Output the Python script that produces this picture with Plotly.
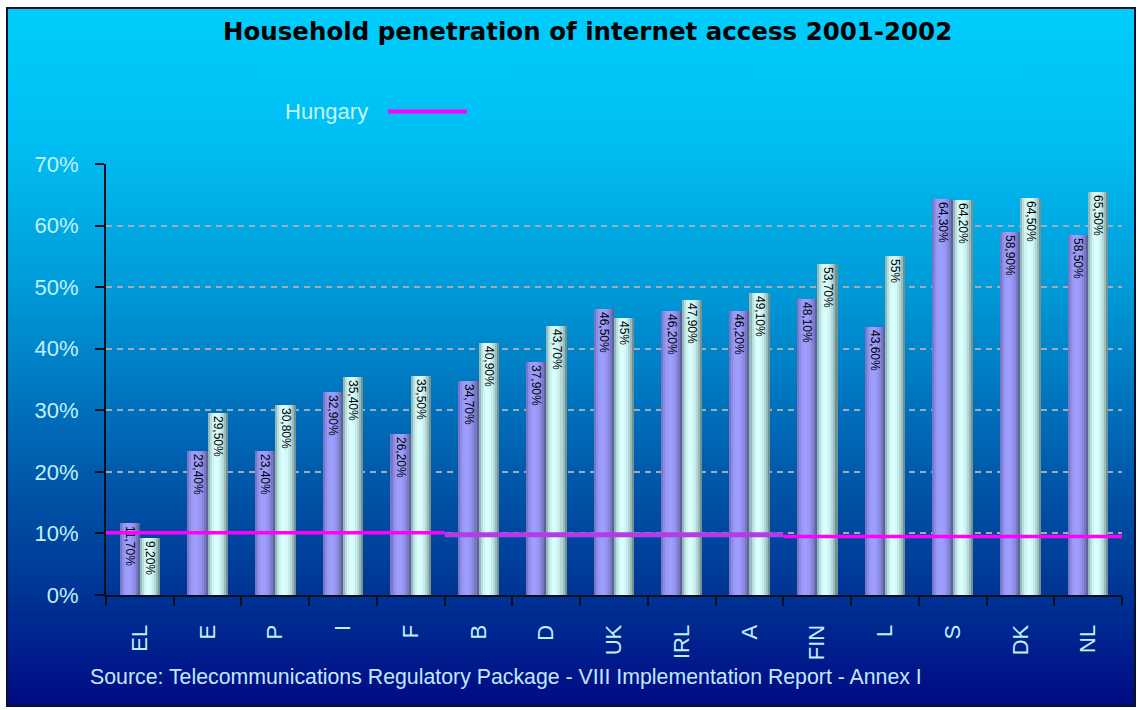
import base64
import math
import plotly.graph_objects as go

# ---- data -------------------------------------------------------------
countries = ["EL", "E", "P", "I", "F", "B", "D", "UK", "IRL", "A",
             "FIN", "L", "S", "DK", "NL"]
penetration_2001 = [11.7, 23.4, 23.4, 32.9, 26.2, 34.7, 37.9, 46.5, 46.2,
                    46.2, 48.1, 43.6, 64.3, 58.9, 58.5]
penetration_2002 = [9.2, 29.5, 30.8, 35.4, 35.5, 40.9, 43.7, 45.0, 47.9,
                    49.1, 53.7, 55.0, 64.2, 64.5, 65.5]
# Hungary reference level, one value per block of five countries
hungary_levels = [10.1, 9.8, 9.5]
hungary_block = 5
y_ticks = [0, 10, 20, 30, 40, 50, 60, 70]

# ---- page geometry ----------------------------------------------------
W, H = 1138, 710
ML, MR, MT, MB = 106, 16, 164, 115
PW, PH = W - ML - MR, H - MT - MB


def fx(px):
    return (px - ML) / PW


def fy(py):
    return (H - MB - py) / PH


def fmt(v):
    if float(v).is_integer():
        return f"{int(v)}%"
    return f"{v:.2f}".replace(".", ",") + "%"


idx = list(range(len(countries)))
fig = go.Figure()

# ---- cylinder-shaded bars (vertical strips across each bar) ------------
BAR_W = 0.3
N_STRIPS = 10


def shade(t, left, mid, right, peak=0.4):
    if t < peak:
        f = math.sin(math.pi / 2 * t / peak) ** 0.6
        edge = left
    else:
        f = math.cos(math.pi / 2 * (t - peak) / (1 - peak)) ** 0.6
        edge = right
    c = [round(e + (m - e) * f) for e, m in zip(edge, mid)]
    return f"rgb({c[0]},{c[1]},{c[2]})"


series = [
    ("2001", penetration_2001, -BAR_W / 2, (96, 96, 165), (158, 158, 255), (70, 70, 115)),
    ("2002", penetration_2002, BAR_W / 2, (105, 145, 145), (218, 255, 255), (70, 100, 100)),
]

for name, vals, centre, left, mid, right in series:
    sw = BAR_W / N_STRIPS
    for k in range(N_STRIPS):
        t = (k + 0.5) / N_STRIPS
        fig.add_trace(go.Bar(
            x=idx, y=vals, width=sw * 1.02, offset=centre - BAR_W / 2 + k * sw,
            marker=dict(color=shade(t, left, mid, right), line=dict(width=0)),
            showlegend=False, hoverinfo="skip", name=name))

for name, vals, centre, *_ in series:
    fig.add_trace(go.Bar(
        x=idx, y=vals, width=BAR_W, offset=centre - BAR_W / 2,
        marker=dict(color="rgba(0,0,0,0)", line=dict(width=0)),
        text=[fmt(v) for v in vals], textposition="inside",
        insidetextanchor="end", textangle=90,
        textfont=dict(family="Liberation Sans", size=12, color="black"),
        showlegend=False, name=name,
        hovertemplate="%{y:.1f}%<extra>" + name + "</extra>"))

# ---- Hungary reference line ------------------------------------------
seg_colors = ["#ff00ff", "#b43ce6", "#ff00ff"]
seg_widths = [3.5, 5, 3.5]
for i, lvl in enumerate(hungary_levels):
    x0 = i * hungary_block - 0.5
    x1 = (i + 1) * hungary_block - 0.5
    fig.add_trace(go.Scatter(
        x=[x0, x1], y=[lvl, lvl], mode="lines",
        line=dict(color=seg_colors[i], width=seg_widths[i]),
        showlegend=False, name="Hungary", hoverinfo="skip"))

# ---- background gradient panel with dark frame -----------------------
bw, bh = 1130, 700
svg = (
    f'<svg xmlns="http://www.w3.org/2000/svg" width="{bw}" height="{bh}" '
    f'viewBox="0 0 {bw} {bh}" preserveAspectRatio="none">'
    '<defs><linearGradient id="g" x1="0" y1="0" x2="0" y2="1">'
    '<stop offset="0" stop-color="#00cefd"/>'
    '<stop offset="0.2" stop-color="#00bdf2"/>'
    '<stop offset="0.4" stop-color="#009bd8"/>'
    '<stop offset="0.55" stop-color="#0076c0"/>'
    '<stop offset="0.7" stop-color="#0052a6"/>'
    '<stop offset="0.83" stop-color="#003696"/>'
    '<stop offset="1" stop-color="#000a84"/>'
    '</linearGradient></defs>'
    f'<rect x="1" y="1" width="{bw - 2}" height="{bh - 2}" fill="url(#g)" '
    'stroke="#0a0f2a" stroke-width="2"/></svg>'
)
bg_src = "data:image/svg+xml;base64," + base64.b64encode(svg.encode()).decode()

fig.add_layout_image(dict(
    source=bg_src, xref="paper", yref="paper",
    x=fx(6), y=fy(7), sizex=bw / PW, sizey=bh / PH,
    xanchor="left", yanchor="top", sizing="stretch", layer="below"))

# ---- texts -------------------------------------------------------------
annotations = [
    dict(text="<b>Household penetration of internet access 2001-2002</b>",
         x=fx(587), y=fy(31), xanchor="center", yanchor="middle",
         font=dict(family="DejaVu Sans", size=24.5, color="#000000")),
    dict(text="Hungary", x=fx(283), y=fy(111), xanchor="left", yanchor="middle",
         font=dict(family="Liberation Sans", size=22, color="#c8f4ff")),
    dict(text="Source: Telecommunications Regulatory Package - VIII Implementation Report - Annex I",
         x=fx(88), y=fy(677), xanchor="left", yanchor="middle",
         font=dict(family="Liberation Sans", size=21.3, color="#c0e8ff")),
]
for a in annotations:
    a.update(xref="paper", yref="paper", showarrow=False)

fig.update_layout(
    width=W, height=H,
    margin=dict(l=ML, r=MR, t=MT, b=MB, pad=0),
    paper_bgcolor="white", plot_bgcolor="rgba(0,0,0,0)",
    barmode="overlay", bargap=0,
    annotations=annotations,
    shapes=[dict(type="line", xref="paper", yref="paper",
                 x0=fx(388), x1=fx(467), y0=fy(111.5), y1=fy(111.5),
                 line=dict(color="#ff00ff", width=4))],
    xaxis=dict(
        range=[-0.5, len(countries) - 0.5], tickmode="array",
        tickvals=idx, ticktext=countries, tickangle=-90,
        ticks="outside", ticklen=9, tickcolor="rgba(0,0,0,0)",
        ticklabelstandoff=10,
        tickfont=dict(family="Liberation Sans", size=22, color="#c0f0ff"),
        showline=True, linecolor="#0a0f20", linewidth=2,
        showgrid=False, zeroline=False, fixedrange=True,
        minor=dict(tickmode="array",
                   tickvals=[i - 0.5 for i in range(len(countries) + 1)],
                   ticks="outside", ticklen=9, tickwidth=2,
                   tickcolor="#0a0f20", showgrid=False),
    ),
    yaxis=dict(
        range=[0, 70], tickmode="array", tickvals=y_ticks,
        ticktext=[f"{v}%" for v in y_ticks],
        ticks="outside", ticklen=9, tickwidth=2, tickcolor="#0a0f20",
        ticklabelstandoff=12,
        tickfont=dict(family="Liberation Sans", size=22, color="#c0f0ff"),
        showline=True, linecolor="#0a0f20", linewidth=2,
        showgrid=True, gridcolor="#a2acb8", griddash="6px,5px", gridwidth=1.5,
        zeroline=False, fixedrange=True,
    ),
)

fig.write_html("out.html")
